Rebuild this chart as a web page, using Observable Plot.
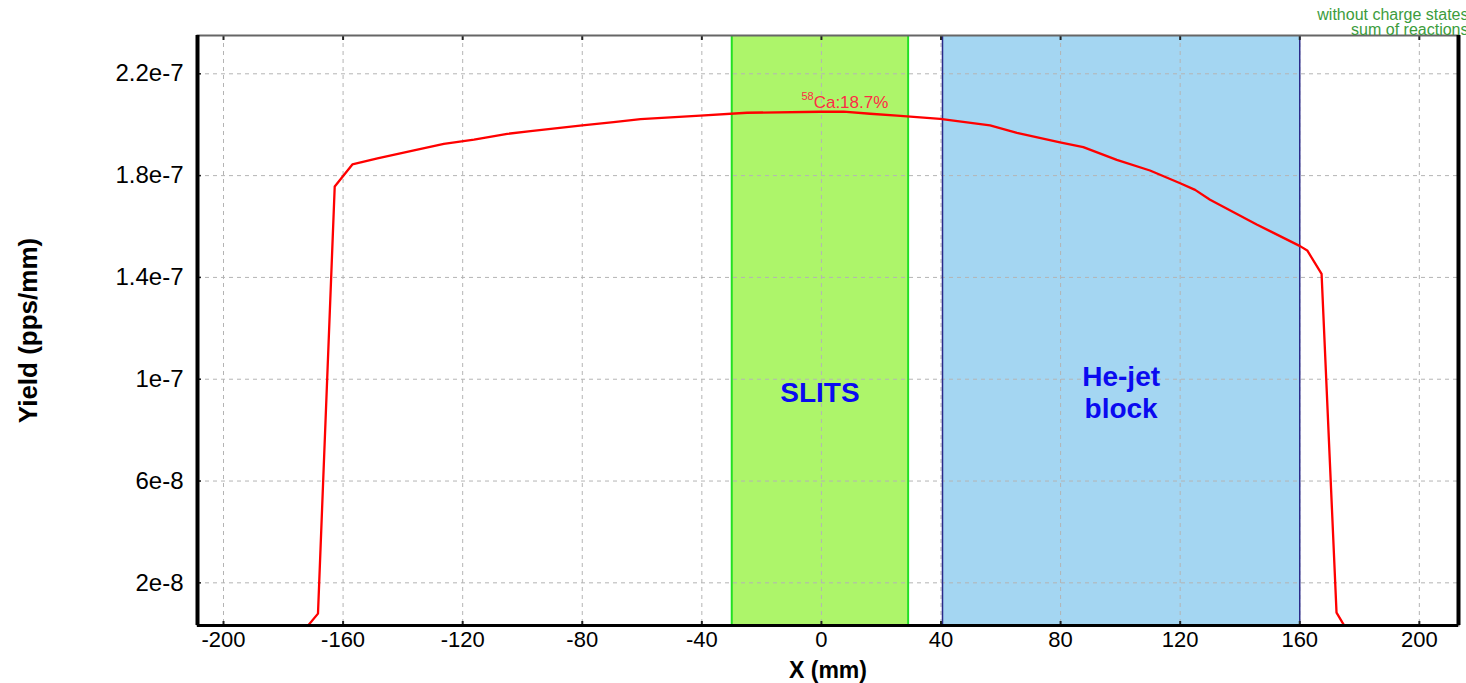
<!DOCTYPE html>
<html><head><meta charset="utf-8">
<script src="https://cdn.jsdelivr.net/npm/d3@7"></script>
<script src="https://cdn.jsdelivr.net/npm/@observablehq/plot@0.6"></script>
<style>
html,body{margin:0;padding:0;background:#fff;overflow:hidden}
#chart{width:1466px;height:683px}
</style></head><body><div id="chart"></div>
<script>
// Curve: X (mm) and yield (pps/mm)
const xPos = [-174, -168.4, -162.8, -156.9, -148.5, -136.3, -126.3, -116.2, -105.1, -97.3, -80, -69.5, -60.5, -40.5, -24.9, -0.4, 7.4, 16.3, 25.3, 39.7, 56.4, 65.4, 79.8, 87.6, 98.8, 109.9, 120.0, 125.0, 130.0, 145.6, 160.1, 162.5, 167.3, 172.3, 176.5];
const yieldVals = [0, 7.9e-9, 1.757e-7, 1.844e-7, 1.868e-7, 1.899e-7, 1.925e-7, 1.941e-7, 1.964e-7, 1.9745e-7, 1.997e-7, 2.01e-7, 2.022e-7, 2.036e-7, 2.047e-7, 2.051e-7, 2.051e-7, 2.043e-7, 2.036e-7, 2.023e-7, 1.997e-7, 1.968e-7, 1.931e-7, 1.912e-7, 1.862e-7, 1.82e-7, 1.77e-7, 1.744e-7, 1.705e-7, 1.608e-7, 1.523e-7, 1.506e-7, 1.414e-7, 8.3e-9, 0];

// Shaded regions
const bandNames = ["SLITS", "He-jet\nblock"];
const bandStart = [-30, 40.5];
const bandEnd = [29, 160];

// Axes
const xTicks = [-200, -160, -120, -80, -40, 0, 40, 80, 120, 160, 200];
const xTickLabels = ["-200", "-160", "-120", "-80", "-40", "0", "40", "80", "120", "160", "200"];
const yTicks = [2.2e-7, 1.8e-7, 1.4e-7, 1e-7, 6e-8, 2e-8];
const yTickLabels = ["2.2e-7", "1.8e-7", "1.4e-7", "1e-7", "6e-8", "2e-8"];
const xDomain = [-208.7, 213.1];
const yDomain = [3.24e-9, 2.3505e-7];
const xLabel = "X (mm)";
const yLabel = "Yield (pps/mm)";

// Annotations
const peakIsotope = ["58"];
const peakText = ["Ca:18.7%"];
const peakX = [-2.6];
const peakY = [2.088e-7];
const legendLines = ["without charge states", "sum of reactions"];

const curve = xPos.map((x, i) => ({x, y: yieldVals[i]}));
const bands = bandNames.map((name, i) => ({name, x1: bandStart[i], x2: bandEnd[i], xm: (bandStart[i] + bandEnd[i]) / 2}));
const bandTextY = 9.5e-8;
const font = "Arial, 'Liberation Sans', sans-serif";

const chart = Plot.plot({
  width: 1466,
  height: 683,
  marginLeft: 197,
  marginRight: 8,
  marginTop: 35,
  marginBottom: 58,
  style: {fontFamily: font, fontSize: "21px", color: "#000", background: "#fff", overflow: "hidden"},
  x: {domain: xDomain},
  y: {domain: yDomain},
  marks: [
    Plot.rect(bands.slice(0,1), {x1: "x1", x2: "x2", y1: yDomain[0], y2: yDomain[1], fill: "#adf56a"}),
    Plot.rect(bands.slice(1), {x1: "x1", x2: "x2", y1: yDomain[0], y2: yDomain[1], fill: "#a4d6f2"}),
    Plot.gridX(xTicks, {stroke: "#b4b4b4", strokeOpacity: 1, strokeDasharray: "4,4", strokeWidth: 1}),
    Plot.gridY(yTicks, {stroke: "#b4b4b4", strokeOpacity: 1, strokeDasharray: "4,4", strokeWidth: 1}),
    Plot.ruleX([bandStart[0], bandEnd[0]], {stroke: "#22e022", strokeWidth: 2}),
    Plot.ruleX([bandStart[1], bandEnd[1]], {stroke: "#2a2a8a", strokeWidth: 1.5}),
    Plot.text(bands, {x: "xm", y: bandTextY, text: "name", fill: "#0a0af0", fontSize: 28, fontWeight: "bold", lineHeight: 1.13, fontFamily: font}),
    Plot.line(curve, {x: "x", y: "y", stroke: "#ff0000", strokeWidth: 2.3, clip: true}),
    Plot.text(peakText, {x: peakX, y: peakY, text: d => d, textAnchor: "start", fill: "#ff2a45", fontSize: 17, fontFamily: font}),
    Plot.text(peakIsotope, {x: peakX, y: peakY, text: d => d, textAnchor: "end", dy: -6, fill: "#ff2a45", fontSize: 11, fontFamily: font}),
    Plot.axisX({ticks: xTicks, tickSize: 0, tickPadding: 6, label: null, fontSize: 22, tickFormat: d => xTickLabels[xTicks.indexOf(d)]}),
    Plot.axisY({ticks: yTicks, tickSize: 0, tickPadding: 14, label: null, fontSize: 24, tickFormat: d => yTickLabels[yTicks.indexOf(d)]}),
    Plot.axisX({ticks: xTicks, tickSize: -4, tickFormat: () => "", label: null, stroke: "#222", strokeWidth: 2}),
    Plot.axisX({ticks: xTicks, anchor: "top", tickSize: -4, tickFormat: () => "", label: null, stroke: "#222", strokeWidth: 2}),
    Plot.axisY({ticks: yTicks, tickSize: -4, tickFormat: () => "", label: null, stroke: "#222", strokeWidth: 1.5}),
    Plot.frame({stroke: "#666", strokeWidth: 2}),
    Plot.ruleY([yDomain[0]], {stroke: "#000", strokeWidth: 3}),
    Plot.ruleX([xDomain[0]], {stroke: "#000", strokeWidth: 4}),
    Plot.ruleX([xDomain[1]], {stroke: "#000", strokeWidth: 4}),
    Plot.text([xLabel], {frameAnchor: "bottom", dy: 52, text: d => d, fontWeight: "bold", fontSize: 23, fontFamily: font}),
    Plot.text([yLabel], {frameAnchor: "left", dx: -169, rotate: -90, textAnchor: "middle", text: d => d, fontWeight: "bold", fontSize: 26, fontFamily: font}),
    Plot.text([legendLines[0]], {frameAnchor: "top-right", dx: 10, dy: -27, text: d => d, textAnchor: "end", fill: "#3c9c3c", fontSize: 16, fontFamily: font}),
    Plot.text([legendLines[1]], {frameAnchor: "top-right", dx: 10, dy: -12, text: d => d, textAnchor: "end", fill: "#3c9c3c", fontSize: 16, fontFamily: font})
  ]
});
document.getElementById("chart").appendChild(chart);
</script>
</body></html>
